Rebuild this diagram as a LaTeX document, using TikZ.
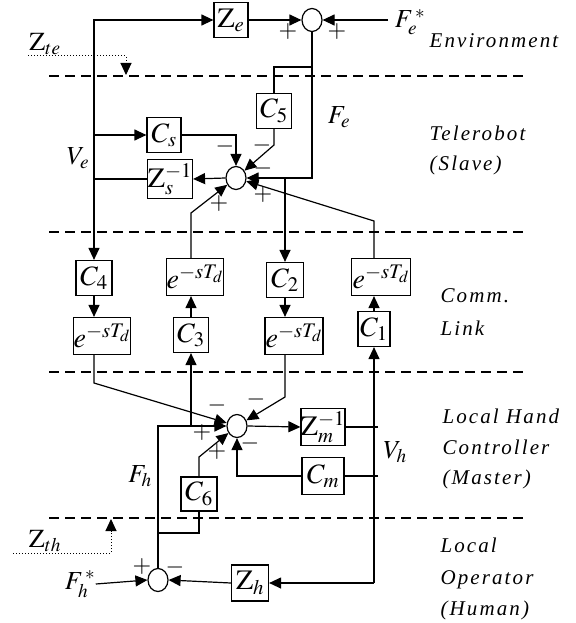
\documentclass[tikz,border=0pt]{standalone}
\usepackage{mathptmx}
\usepackage{fontspec}
\setmainfont{Liberation Serif}
\newfontfamily\regfont[LetterSpace=10]{Liberation Serif}
\usetikzlibrary{arrows.meta,shapes.geometric}

\begin{document}
\begin{tikzpicture}[x=1pt,y=-1pt,line width=1.2pt,
  arr/.style={-{Triangle[length=12pt,width=11pt]}},
  blk/.style={draw,inner sep=0pt,minimum width=35pt,minimum height=35pt,font=\fontsize{28}{32}\selectfont},
  zblk/.style={blk},
  sumj/.style={draw,ellipse,inner sep=0pt,minimum width=20pt,minimum height=23pt},
  lbl/.style={inner sep=0pt,font=\fontsize{26}{30}\selectfont},
  sgn/.style={inner sep=0pt,font=\fontsize{24}{28}\selectfont},
  region/.style={anchor=base west,inner sep=0pt,font=\fontsize{21}{25}\regfont\itshape},
  sep/.style={dash pattern=on 10pt off 6pt},
  tie/.style={line width=1pt,dotted}]
\useasboundingbox (0,0) rectangle (575,623);

% layer boundaries
\foreach \yy in {76,232,372,518}
  \draw[sep] (49,\yy) -- (527,\yy);

% region names
\node[region] at (429,48) {Environment};
\node[region] at (429,140) {Telerobot};
\node[region] at (429,170) {(Slave)};
\node[region] at (440,302) {Comm.};
\node[region] at (440,335) {Link};
\node[region] at (442,423) {Local Hand};
\node[region] at (442,454) {Controller};
\node[region] at (442,484) {(Master)};
\node[region] at (440,552) {Local};
\node[region] at (440,584) {Operator};
\node[region] at (440,615) {(Human)};

% summing junctions
\node[sumj] (te) at (312,20) {};
\node[sumj] (ss) at (236,178) {};
\node[sumj] (ms) at (237,426) {};
\node[sumj] (bs) at (158,580) {};

% blocks
\node[zblk,minimum width=34pt] (ze) at (231,20) {$\mathrm{Z}_e$};
\node[blk] (c5) at (274,111) {$C_5$};
\node[blk,minimum width=34pt] (cs) at (164,135) {$C_s$};
\node[zblk,minimum width=45pt,minimum height=39pt] (zs) at (170,179) {$\mathrm{Z}_s^{-1}$};
\node[blk,minimum width=36pt] (c4) at (94,278) {$C_4$};
\node[blk,minimum width=57pt,minimum height=37pt] (e4) at (102,336) {$e^{-sT_d}$};
\node[blk,minimum width=57pt,minimum height=37pt] (e3) at (195,277) {$e^{-sT_d}$};
\node[blk] (c3) at (191,335) {$C_3$};
\node[blk,minimum width=37pt] (c2) at (285,280) {$C_2$};
\node[blk,minimum width=58pt,minimum height=37pt] (e2) at (294,336) {$e^{-sT_d}$};
\node[blk,minimum width=59pt,minimum height=37pt] (e1) at (381,277) {$e^{-sT_d}$};
\node[blk,minimum width=32pt] (c1) at (374,329) {$C_1$};
\node[zblk,minimum width=43pt,minimum height=37pt] (zm) at (323,427) {$\mathrm{Z}_m^{-1}$};
\node[blk,minimum width=42pt,minimum height=37pt] (cm) at (323,476) {$C_m$};
\node[blk,minimum width=36pt,minimum height=34pt] (c6) at (199,494) {$C_6$};
\node[zblk,minimum width=37pt,minimum height=36pt] (zh) at (250,583) {$\mathrm{Z}_h$};

% signal labels
\node[lbl] (fes) at (410,22) {$F_e^{\,*}$};
\node[lbl] at (339,117) {$F_e$};
\node[lbl] at (78,158) {$V_e$};
\node[lbl] at (140,476) {$F_h$};
\node[lbl] at (395,452) {$V_h$};
\node[lbl] (fhs) at (80,584) {$F_h^{\,*}$};
\node[lbl] (zte) at (45,44) {$\mathrm{Z}_{te}$};
\node[lbl] (zth) at (45,541) {$\mathrm{Z}_{th}$};

% junction points
\coordinate (ve) at (94,179);
\coordinate (vh) at (374,583);

% environment
\draw[arr] (zs.west) -- (ve) |- (ze.west);
\draw[arr] (ze.east) -- (te.west);
\draw[arr] (fes.west |- te.east) ++(-6,0) -- (te.east);
\draw[arr] (te.south) |- (ss.east);
\draw (312,67) -| (c5.north);
\draw[tie,arr] (28,56) -| (126,75);

% telerobot
\draw[arr] (94,135) -- (cs.west);
\draw[arr] (cs.east) -| (ss.north);
\draw[arr] (c5.south) -- (274,145) -- (ss);
\draw[arr] (ss.west) -- (zs.east);
\draw[arr] (ve) -- (c4.north);
\draw[arr] (285,178) -- (c2.north);

% communication channel
\draw[arr] (c4.south) -- (c4.south |- e4.north);
\draw[arr] (c2.south) -- (c2.south |- e2.north);
\draw[arr] (c3.north) -- (c3.north |- e3.south);
\draw[arr] (c1.north) -- (c1.north |- e1.south);
\draw[arr] (c3.north |- e3.north) -- (191,213) -- (ss);
\draw[arr] (c1.north |- e1.north) -- (374,221) -- (ss);
\draw[arr] (c4.south |- e4.south) -- (94,383) -- (ms);
\draw[arr] (c2.south |- e2.south) -- (285,397) -- (ms);

% hand controller
\draw[arr] (ms.east) -- (zm.west);
\draw (zm.east) -- (378,427);
\draw (378,476) -- (cm.east);
\draw[arr] (cm.west) -| (ms.south);
\draw[arr] (vh) -- (c1.south);
\draw[arr] (bs.north) |- (ms.west);
\draw[arr] (191,426) -- (c3.south);
\draw[arr] (c6.north) -- (199,457) -- (ms);
\draw (158,533) -| (c6.south);

% operator
\draw[arr] (fhs.east) -- (bs.west);
\draw[arr] (zh.west) -- (bs.east);
\draw[arr] (vh) -- (zh.east);
\draw[tie,arr] (13,553) -| (111,519);

% signs
\node[sgn] at (288,32) {$+$};
\node[sgn] at (337,32) {$+$};
\node[sgn] at (225,146) {$-$};
\node[sgn] at (262,145) {$-$};
\node[sgn] at (263,168) {$-$};
\node[sgn] at (219,204) {$+$};
\node[sgn] at (263,195) {$+$};
\node[sgn] at (217,405) {$-$};
\node[sgn] at (256,399) {$-$};
\node[sgn] at (202,433) {$+$};
\node[sgn] at (217,452) {$+$};
\node[sgn] at (250,443) {$-$};
\node[sgn] at (142,566) {$+$};
\node[sgn] at (175,567) {$-$};
\end{tikzpicture}
\end{document}
